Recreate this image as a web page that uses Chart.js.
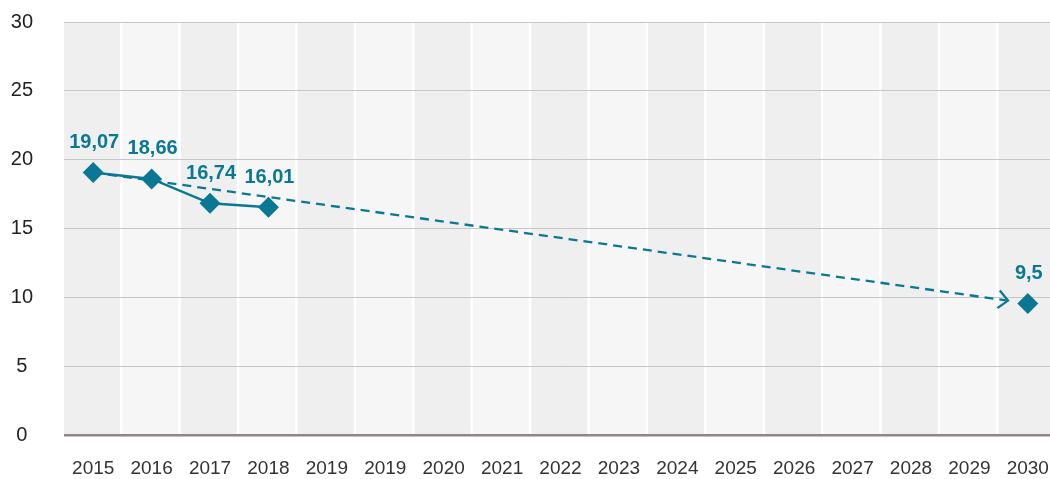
<!DOCTYPE html>
<html>
<head>
<meta charset="utf-8">
<script src="https://cdn.jsdelivr.net/npm/chart.js@4.4.1/dist/chart.umd.min.js"></script>
<style>
  html, body { margin: 0; padding: 0; background: #fff; overflow: hidden; }
  #wrap { width: 1050px; height: 479px; overflow: hidden; }
</style>
</head>
<body>
<div id="wrap"><canvas id="trend-chart" width="1057" height="479"></canvas></div>
<script>
const years = ["2015", "2016", "2017", "2018", "2019", "2019", "2020", "2021", "2022",
  "2023", "2024", "2025", "2026", "2027", "2028", "2029", "2030"];
const actualValues = [19.07, 18.6, 16.83, 16.54, null, null, null, null, null,
  null, null, null, null, null, null, null, 9.56];
const actualLabels = ["19,07", "18,66", "16,74", "16,01", null, null, null, null, null,
  null, null, null, null, null, null, null, "9,5"];
const trendValues = [19.07, null, null, null, null, null, null, null, null,
  null, null, null, null, null, null, null, 9.56];
const yMin = 0;
const yMax = 30;
const yStep = 5;

const TEAL = "#0a7895";
const FONT = "'Liberation Sans Narrow', 'Liberation Sans', Arial, sans-serif";

// alternating grey columns behind the grid
const columnBands = {
  id: "columnBands",
  beforeDraw(chart) {
    const { ctx, chartArea } = chart;
    const x = chart.scales.x;
    const step = (chartArea.right - chartArea.left) / years.length;
    ctx.save();
    years.forEach((_, i) => {
      const cx = x.getPixelForValue(i);
      ctx.fillStyle = i % 2 === 0 ? "#efefef" : "#f6f6f6";
      ctx.fillRect(cx - step / 2, chartArea.top, step - 2.4, chartArea.bottom - chartArea.top);
    });
    ctx.restore();
  },
};

// dashed trend line with an open arrow that stops short of the target point
const trendArrow = {
  id: "trendArrow",
  beforeDatasetsDraw(chart) {
    const ctx = chart.ctx;
    const meta = chart.getDatasetMeta(1);
    const first = trendValues.findIndex((v) => v != null);
    const last = trendValues.length - 1 - [...trendValues].reverse().findIndex((v) => v != null);
    const a = meta.data[first];
    const b = meta.data[last];
    const dx = b.x - a.x;
    const dy = b.y - a.y;
    const len = Math.hypot(dx, dy);
    const ux = dx / len;
    const uy = dy / len;
    const tipX = b.x - ux * 20;
    const tipY = b.y - uy * 20;

    ctx.save();
    ctx.strokeStyle = TEAL;
    ctx.lineWidth = 2.3;
    ctx.setLineDash([9, 6]);
    ctx.beginPath();
    ctx.moveTo(a.x, a.y);
    ctx.lineTo(tipX - ux * 2, tipY - uy * 2);
    ctx.stroke();

    ctx.setLineDash([]);
    ctx.lineWidth = 2.3;
    const ang = Math.atan2(uy, ux);
    const arm = 13;
    ctx.beginPath();
    ctx.moveTo(tipX - arm * Math.cos(ang - 0.75), tipY - arm * Math.sin(ang - 0.75));
    ctx.lineTo(tipX, tipY);
    ctx.lineTo(tipX - arm * Math.cos(ang + 0.75), tipY - arm * Math.sin(ang + 0.75));
    ctx.stroke();
    ctx.restore();
  },
};

const pointLabels = {
  id: "pointLabels",
  afterDatasetsDraw(chart) {
    const ctx = chart.ctx;
    const meta = chart.getDatasetMeta(0);
    ctx.save();
    ctx.fillStyle = TEAL;
    ctx.font = "bold 20px " + FONT;
    ctx.textAlign = "center";
    ctx.textBaseline = "middle";
    actualLabels.forEach((label, i) => {
      if (label == null) return;
      const p = meta.data[i];
      ctx.fillText(label, p.x + 1, p.y - 30);
    });
    ctx.restore();
  },
};

new Chart(document.getElementById("trend-chart"), {
  type: "line",
  data: {
    labels: years,
    datasets: [
      {
        label: "Actual",
        data: actualValues,
        borderColor: TEAL,
        backgroundColor: TEAL,
        borderWidth: 2.5,
        pointStyle: "rectRot",
        pointRadius: 10.5,
        pointBorderWidth: 0,
        spanGaps: false,
        fill: false,
      },
      {
        label: "Trend",
        data: trendValues,
        showLine: false,
        pointRadius: 0,
        spanGaps: true,
      },
    ],
  },
  options: {
    responsive: false,
    devicePixelRatio: 1,
    animation: false,
    layout: { autoPadding: false, padding: { top: 22, right: 0, left: 0, bottom: 0 } },
    plugins: {
      legend: { display: false },
      tooltip: { enabled: false },
    },
    scales: {
      x: {
        offset: true,
        grid: {
          display: true,
          drawOnChartArea: false,
          drawTicks: true,
          tickLength: 22,
          color: "rgba(0,0,0,0)",
        },
        border: { display: false },
        ticks: {
          autoSkip: false,
          maxRotation: 0,
          padding: 0,
          color: "#333",
          font: { family: FONT, size: 19 },
        },
        afterFit(scale) {
          scale.height = 44;
          scale.paddingLeft = 0;
          scale.paddingRight = 0;
        },
      },
      y: {
        min: yMin,
        max: yMax,
        border: { display: false },
        grid: {
          drawTicks: false,
          color: (c) => (c.tick && c.tick.value === 0 ? "#8e8585" : "#c6c6c6"),
          lineWidth: (c) => (c.tick && c.tick.value === 0 ? 2.5 : 1),
        },
        ticks: {
          stepSize: yStep,
          padding: 31,
          crossAlign: "center",
          color: "#222",
          font: { family: FONT, size: 20 },
        },
        afterFit(scale) {
          scale.width = 64;
          scale.paddingTop = 0;
          scale.paddingBottom = 0;
        },
      },
    },
  },
  plugins: [columnBands, trendArrow, pointLabels],
});
</script>
</body>
</html>
